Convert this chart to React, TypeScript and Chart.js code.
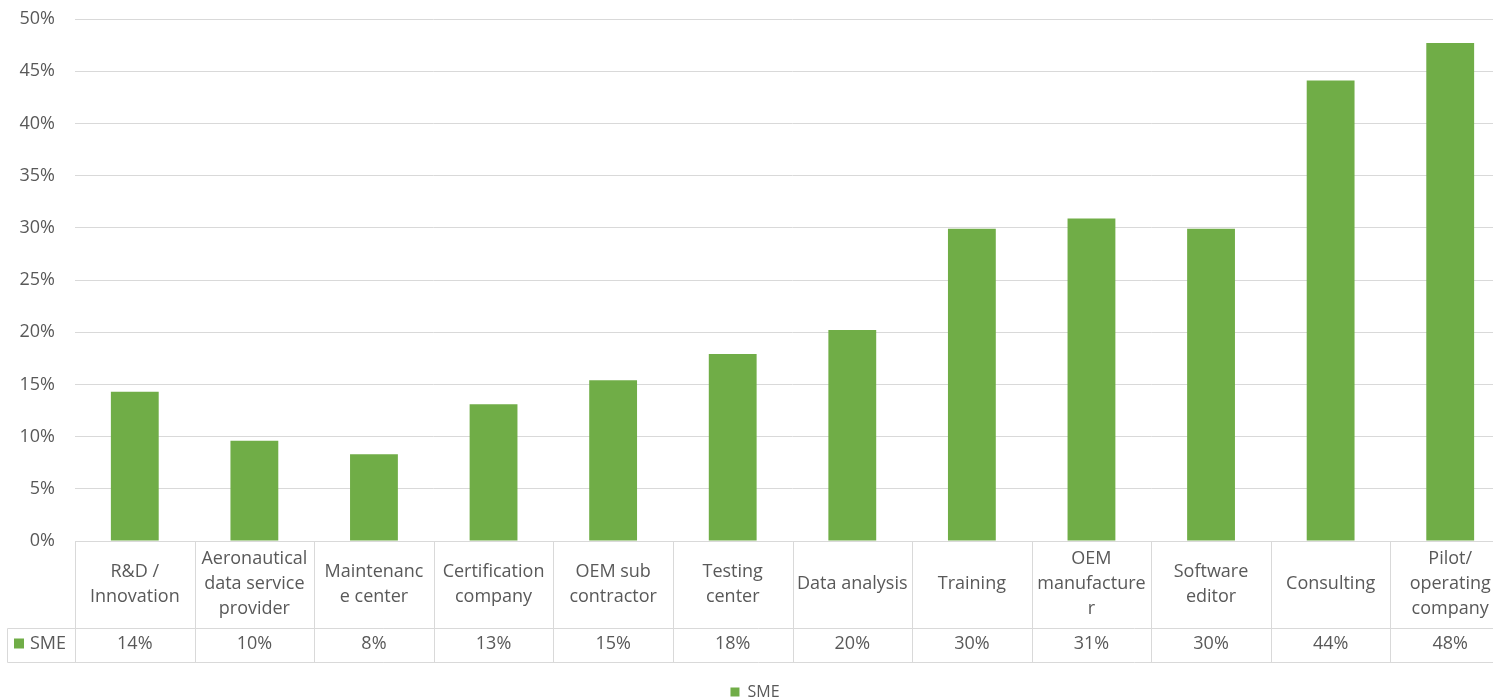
import React, { useEffect, useRef } from "react";
import { Chart, registerables } from "chart.js";

Chart.register(...registerables);

const categories: string[][] = [
  ["R&D /", "Innovation"],
  ["Aeronautical", "data service", "provider"],
  ["Maintenanc", "e center"],
  ["Certification", "company"],
  ["OEM sub", "contractor"],
  ["Testing", "center"],
  ["Data analysis"],
  ["Training"],
  ["OEM", "manufacture", "r"],
  ["Software", "editor"],
  ["Consulting"],
  ["Pilot/", "operating", "company"],
];

const seriesName = "SME";
const smeValues: number[] = [0.143, 0.096, 0.083, 0.131, 0.154, 0.179, 0.202, 0.299, 0.309, 0.299, 0.441, 0.477];

const yTickStep = 0.05;
const yMax = 0.5;

const FONT = "'Open Sans', sans-serif";
const TEXT = "#595959";
const GRID = "#d9d9d9";
const GREEN = "#70AD47";

const tablePlugin = {
  id: "dataTable",
  afterDraw(chart: any) {
    const ctx = chart.ctx;
    const xs = chart.scales.x;
    const area = chart.chartArea;
    const n = categories.length;
    const colW = xs.getPixelForValue(1) - xs.getPixelForValue(0);
    const left = area.left;
    const right = left + colW * n;
    const top = Math.round(area.bottom) + 0.5;
    const mid = top + 87;
    const bottom = top + 121;
    const legendLeft = 7.5;

    ctx.save();
    ctx.strokeStyle = GRID;
    ctx.lineWidth = 1;
    ctx.beginPath();
    ctx.moveTo(left, top);
    ctx.lineTo(right, top);
    ctx.moveTo(legendLeft, mid);
    ctx.lineTo(right, mid);
    ctx.moveTo(legendLeft, bottom);
    ctx.lineTo(right, bottom);
    for (let i = 0; i <= n; i++) {
      const x = Math.round(left + i * colW) + 0.5;
      ctx.moveTo(x, top);
      ctx.lineTo(x, bottom);
    }
    ctx.moveTo(legendLeft, mid);
    ctx.lineTo(legendLeft, bottom);
    ctx.stroke();

    ctx.fillStyle = TEXT;
    ctx.font = `18px ${FONT}`;
    ctx.textAlign = "center";
    ctx.textBaseline = "middle";
    const lineH = 25;
    const catCenter = (top + mid) / 2 - 1;
    categories.forEach((lines, i) => {
      const cx = xs.getPixelForValue(i);
      const y0 = catCenter - ((lines.length - 1) * lineH) / 2;
      lines.forEach((t, j) => ctx.fillText(t, cx, y0 + j * lineH));
      const v = Math.round(smeValues[i] * 100) + "%";
      ctx.fillText(v, cx, (mid + bottom) / 2 - 2);
    });

    const rowC = (mid + bottom) / 2 - 2;
    ctx.fillStyle = GREEN;
    ctx.fillRect(14, rowC - 5, 10, 10);
    ctx.fillStyle = TEXT;
    ctx.textAlign = "left";
    ctx.fillText(seriesName, 30, rowC);
    ctx.restore();
  },
};

export default function App() {
  const ref = useRef<HTMLCanvasElement | null>(null);

  useEffect(() => {
    if (!ref.current) return;
    Chart.defaults.font.family = FONT;
    const chart = new Chart(ref.current, {
      type: "bar",
      data: {
        labels: categories.map((c) => c.join(" ")),
        datasets: [
          {
            label: seriesName,
            data: smeValues,
            backgroundColor: GREEN,
            borderWidth: 0,
            categoryPercentage: 1,
            barPercentage: 0.4,
          },
        ],
      },
      options: {
        animation: false,
        responsive: false,
        maintainAspectRatio: false,
        layout: { padding: { top: 19, right: 2, left: 0, bottom: 0 } },
        plugins: {
          legend: {
            position: "bottom",
            labels: {
              boxWidth: 9,
              boxHeight: 9,
              padding: 0,
              color: TEXT,
              font: { size: 16, family: FONT },
            },
          },
          tooltip: { enabled: false },
        },
        scales: {
          x: {
            ticks: { display: false },
            grid: { display: false },
            border: { display: false },
            afterFit: (axis: any) => {
              axis.height = 143;
            },
          },
          y: {
            min: 0,
            max: yMax,
            ticks: {
              stepSize: yTickStep,
              color: TEXT,
              padding: 20,
              font: { size: 18, family: FONT },
              callback: (v: any) => Math.round(Number(v) * 100) + "%",
            },
            grid: { color: GRID, drawTicks: false },
            border: { display: false },
            afterFit: (axis: any) => {
              axis.width = 75;
              axis.paddingTop = 0;
              axis.paddingBottom = 0;
            },
          },
        },
      },
      plugins: [tablePlugin],
    });
    return () => chart.destroy();
  }, []);

  return (
    <div
      style={{
        position: "fixed",
        left: 0,
        top: 0,
        width: 1493,
        height: 699,
        overflow: "hidden",
        background: "#fff",
      }}
    >
      <canvas ref={ref} width={1512} height={710} style={{ width: 1512, height: 710, display: "block" }} />
    </div>
  );
}
